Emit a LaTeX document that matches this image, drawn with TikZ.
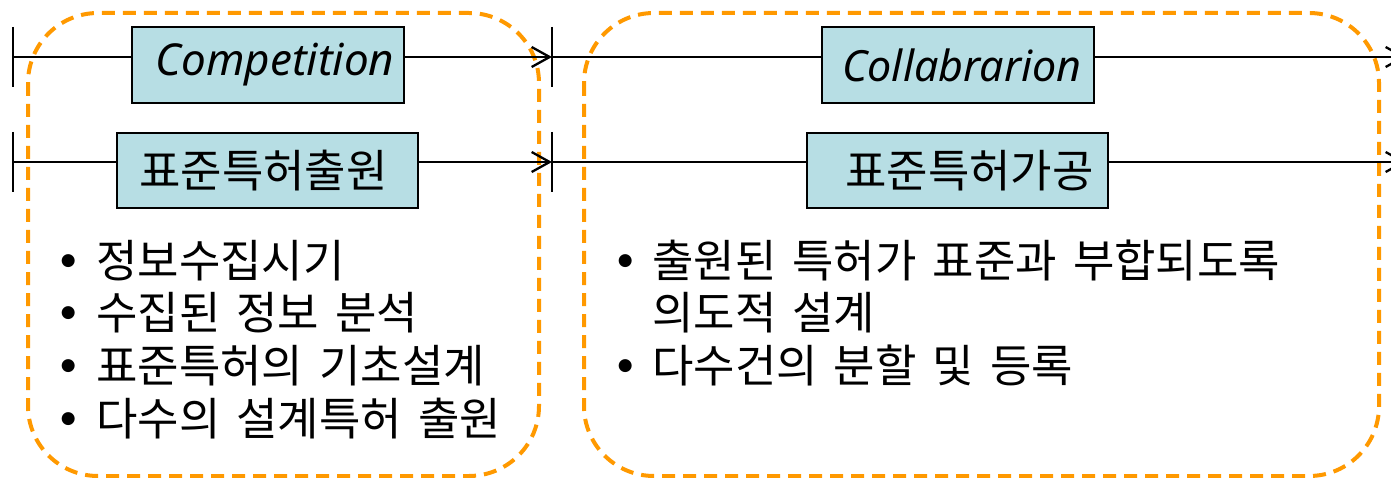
\documentclass[tikz,border=0pt]{standalone}
\usepackage{fontspec}
\setmainfont{Noto Sans CJK KR}[WordSpace=1.6]
\newfontfamily\latinfont{Noto Sans}
\newfontfamily\symfont{DejaVu Sans}
\usetikzlibrary{arrows.meta}
\definecolor{stagefill}{RGB}{183,222,228}
\definecolor{phaseline}{RGB}{255,153,0}
\newcommand{\dotmark}{\makebox[24pt]{\raisebox{12pt}{\symfont\fontsize{17}{18}\selectfont ●}}}

\begin{document}
\begin{tikzpicture}[x=1pt,y=-1pt,
  every node/.style={font=\fontsize{45}{51.5}\selectfont},
  stage/.style={draw=black,line width=2.5pt,fill=stagefill,inner sep=0pt,minimum width=272pt,minimum height=76pt},
  task/.style={stage,minimum width=301pt,minimum height=75pt},
  link/.style={line width=2.3pt},
  flow/.style={line width=2.3pt,-{Straight Barb[length=18pt,width=20pt]}},
  phase/.style={draw=phaseline,line width=4pt,dash pattern=on 13pt off 8pt,rounded corners=70pt}]
  \useasboundingbox (0,0) rectangle (1391,478);

  % phases
  \draw[phase] (28,13) rectangle (539,476);
  \draw[phase] (584,13) rectangle (1379,476);

  % stage boxes
  \node[stage] (comp) at (268,65) {\hspace*{14pt}{\latinfont\itshape\fontsize{44}{50}\selectfont Competition}};
  \node[stage] (collab) at (958,65) {\hspace*{8pt}{\latinfont\itshape\fontsize{43}{50}\selectfont Collabrarion}};
  \node[task] (apply) at (267.5,170.5) {표준특허출원\hspace*{8pt}};
  \node[task] (shape) at (957.5,170.5) {\hspace*{24pt}표준특허가공};

  % time line ends
  \coordinate (startA) at (13,57);
  \coordinate (midA) at (552,57);
  \coordinate (endA) at (1406,57);
  \coordinate (startB) at (13,162);
  \coordinate (midB) at (552,162);
  \coordinate (endB) at (1406,162);

  \foreach \p in {startA,midA,startB,midB}
    \draw[link] ([yshift=30pt]\p) -- ([yshift=-30pt]\p);

  \draw[link] (startA) -- (comp.west |- startA);
  \draw[flow] (comp.east |- startA) -- (midA);
  \draw[link] (midA) -- (collab.west |- midA);
  \draw[flow] (collab.east |- midA) -- (endA);

  \draw[link] (startB) -- (apply.west |- startB);
  \draw[flow] (apply.east |- startB) -- (midB);
  \draw[link] (midB) -- (shape.west |- midB);
  \draw[flow] (shape.east |- midB) -- (endB);

  % bullet lists
  \node[anchor=base west,inner sep=0pt] (listA) at (56,277) {%
    \begin{tabular}[t]{@{}l@{\hspace{16pt}}l@{}}
      \dotmark & 정보수집시기\\
      \dotmark & 수집된 정보 분석\\
      \dotmark & 표준특허의 기초설계\\
      \dotmark & 다수의 설계특허 출원
    \end{tabular}};
  \node[anchor=base west,inner sep=0pt] (listB) at (613,277) {%
    \begin{tabular}[t]{@{}l@{\hspace{15pt}}l@{}}
      \dotmark & 출원된 특허가 표준과 부합되도록\\
               & 의도적 설계\\
      \dotmark & 다수건의 분할 및 등록
    \end{tabular}};
\end{tikzpicture}
\end{document}
